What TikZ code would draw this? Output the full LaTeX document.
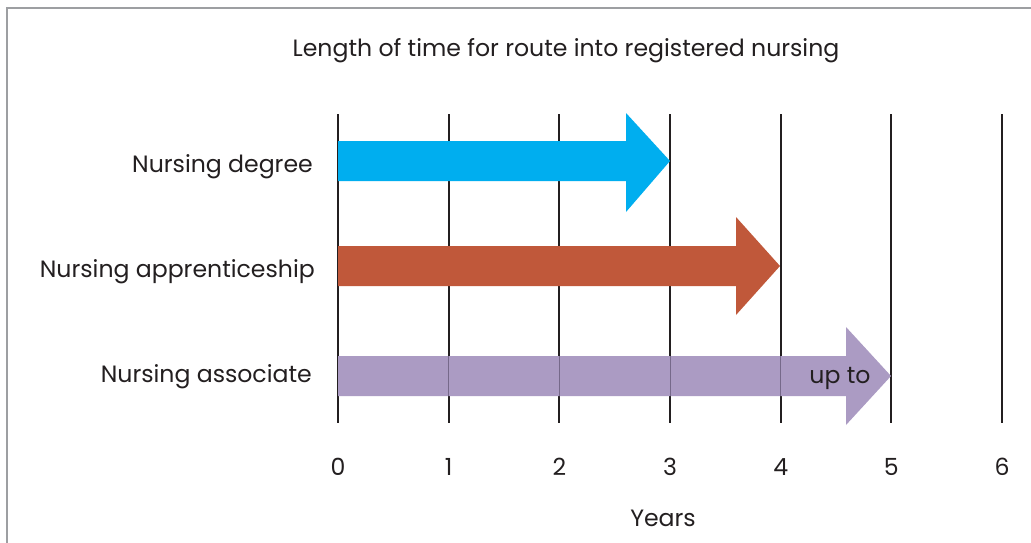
\documentclass[tikz,border=0pt]{standalone}
\usepackage{fontspec}
\setmainfont{Poppins}
\definecolor{framegray}{HTML}{9D9FA2}
\definecolor{linedark}{HTML}{231F20}
\definecolor{degblue}{HTML}{00AEEF}
\definecolor{apporange}{HTML}{C0583A}
\definecolor{assocpurple}{HTML}{AB9BC3}
\definecolor{ghostline}{HTML}{76698A}
\definecolor{txt}{HTML}{231F20}
\begin{document}
\begin{tikzpicture}[x=1pt,y=-1pt,
  lbl/.style={font=\fontsize{23.6}{26}\selectfont, text=txt, inner sep=0pt},
  gridline/.style={draw=linedark, line width=2pt},
  bar/.style={draw=none}]
\useasboundingbox (0,0) rectangle (1031,543);
\fill[white] (0,0) rectangle (1031,543);
% frame
\draw[framegray, line width=2pt] (7,543) -- (7,8) -- (1031,8);
% title
\node[lbl, anchor=center] (title) at (566,51) {Length of time for route into registered nursing};
% grid lines and tick labels
\foreach \i in {0,...,6} {
  \coordinate (top\i) at ({338+110.67*\i},114);
  \coordinate (bot\i) at ({338+110.67*\i},423);
  \draw[gridline] (top\i) -- (bot\i);
  \node[lbl, anchor=center] (tick\i) at ({338+110.67*\i},467) {\i};
}
\node[lbl, anchor=center] (years) at (663,518) {Years};
% arrows
\fill[degblue] (338,141) -- (626,141) -- (626,113) -- (670,161) -- (626,212) -- (626,181) -- (338,181) -- cycle;
\fill[apporange] (338,246) -- (736,246) -- (736,217) -- (780,266) -- (736,315) -- (736,286) -- (338,286) -- cycle;
\fill[assocpurple] (338,356) -- (846,356) -- (846,327) -- (891,376) -- (846,425) -- (846,396) -- (338,396) -- cycle;
\foreach \i in {1,...,4} {
  \draw[ghostline, line width=1pt] ({338+110.67*\i},356) -- ({338+110.67*\i},396);
}
% row labels
\node[lbl, anchor=east] (deg) at (313,167) {Nursing degree};
\node[lbl, anchor=east] (app) at (315,272) {Nursing apprenticeship};
\node[lbl, anchor=east] (assoc) at (312,377) {Nursing associate};
\node[lbl, anchor=center] (upto) at (840,378) {up to};
\end{tikzpicture}
\end{document}
